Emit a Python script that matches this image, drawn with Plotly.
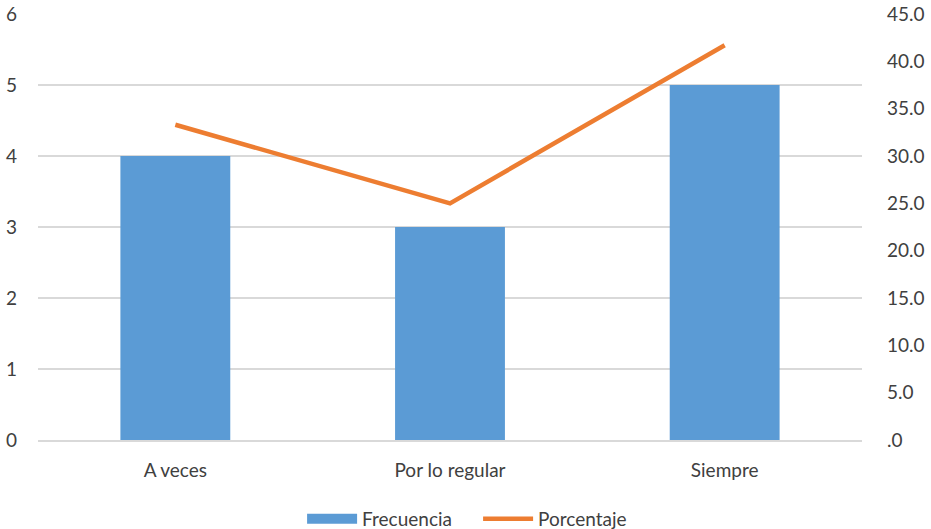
import plotly.graph_objects as go

categories = ["A veces", "Por lo regular", "Siempre"]
frecuencia = [4, 3, 5]
porcentaje = [33.3, 25.0, 41.7]
left_ticks = [0, 1, 2, 3, 4, 5, 6]
right_tickvals = [0, 5, 10, 15, 20, 25, 30, 35, 40, 45]
right_ticktext = [".0", "5.0", "10.0", "15.0", "20.0", "25.0", "30.0", "35.0", "40.0", "45.0"]

FONT = "Lato, Open Sans, sans-serif"
fig = go.Figure()
fig.add_trace(go.Bar(x=categories, y=frecuencia, name="Frecuencia", showlegend=False,
                     marker=dict(color="#5b9bd5", line=dict(width=0)), yaxis="y"))
fig.add_trace(go.Scatter(x=[None], y=[None], name="Frecuencia", mode="lines",
                         line=dict(color="#5b9bd5", width=10), yaxis="y"))
fig.add_trace(go.Scatter(x=categories, y=porcentaje, name="Porcentaje", mode="lines",
                         line=dict(color="#ed7d31", width=4.5), yaxis="y2"))

fig.update_layout(
    width=931, height=529,
    margin=dict(l=38, r=69, t=14, b=89, autoexpand=False),
    paper_bgcolor="white", plot_bgcolor="white",
    font=dict(family=FONT, size=19, color="#404040"),
    bargap=0.6,
    showlegend=True,
    legend=dict(orientation="h", x=0.3205, xanchor="left", y=-0.185, yanchor="middle",
                font=dict(size=19, color="#404040"), itemwidth=50, tracegroupgap=0,
                entrywidth=111, entrywidthmode="pixels"),
    xaxis=dict(showgrid=False, showline=True, linecolor="#d9d9d9", linewidth=1.5,
               ticks="", tickfont=dict(size=19), ticklabelstandoff=12, automargin=False),
    yaxis=dict(range=[0, 6], tickvals=left_ticks, showgrid=True, gridcolor="#d9d9d9",
               gridwidth=1.5, zeroline=False, showline=False, ticks="",
               ticklabelstandoff=20, automargin=False),
    yaxis2=dict(range=[0, 45], tickvals=right_tickvals, ticktext=right_ticktext,
                overlaying="y", side="right", showgrid=False, zeroline=False,
                showline=False, ticks="", ticklabelstandoff=24, automargin=False),
)

fig.write_html("out.html")
